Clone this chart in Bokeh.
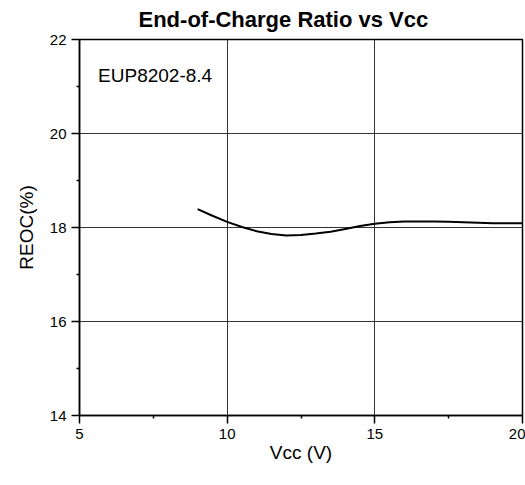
from bokeh.plotting import figure
from bokeh.models import Range1d, FixedTicker
from bokeh.embed import file_html
from bokeh.resources import INLINE
from bokeh.core.properties import value

vcc = [9.0, 9.5, 10.0, 10.5, 11.0, 11.5, 12.0, 12.5, 13.0, 13.5, 14.0, 14.5,
       15.0, 15.5, 16.0, 16.5, 17.0, 17.5, 18.0, 18.5, 19.0, 19.5, 20.0]
reoc = [18.39, 18.25, 18.12, 18.01, 17.92, 17.86, 17.83, 17.84, 17.87, 17.91,
        17.97, 18.03, 18.08, 18.11, 18.13, 18.13, 18.13, 18.12, 18.11, 18.10,
        18.09, 18.09, 18.09]
x_ticks = [5, 10, 15, 20]
x_minor = [7.5, 12.5, 17.5]
y_ticks = [14, 16, 18, 20, 22]
y_minor = [15, 17, 19, 21]

FONT = "Liberation Sans"

p = figure(width=525, height=485, output_backend="svg", toolbar_location=None,
           x_range=Range1d(5, 20), y_range=Range1d(14, 22),
           title="End-of-Charge Ratio vs Vcc",
           min_border_left=79, min_border_right=3, min_border_top=37,
           min_border_bottom=70)

p.title.text_font = FONT
p.title.text_font_size = "22px"
p.title.text_font_style = "bold"
p.title.align = "left"
p.title.offset = 59
p.title.standoff = 12
p.title.vertical_align = "top"
p.title.text_color = "black"

p.background_fill_color = "white"
p.border_fill_color = "white"
p.outline_line_color = "black"
p.outline_line_width = 1.5

p.xaxis.ticker = FixedTicker(ticks=x_ticks, minor_ticks=x_minor)
p.yaxis.ticker = FixedTicker(ticks=y_ticks, minor_ticks=y_minor)

for ax in (p.xaxis, p.yaxis):
    ax.axis_line_color = "black"
    ax.axis_line_width = 1.5
    ax.major_tick_line_color = "black"
    ax.major_tick_line_width = 1.5
    ax.minor_tick_line_color = "black"
    ax.minor_tick_line_width = 1.5
    ax.major_tick_out = 8
    ax.major_tick_in = 0
    ax.minor_tick_out = 3
    ax.minor_tick_in = 0
    ax.major_label_text_font = FONT
    ax.major_label_text_font_size = "15px"
    ax.major_label_text_color = "black"
    ax.major_label_standoff = 5
    ax.axis_label_text_font = FONT
    ax.axis_label_text_font_size = "19px"
    ax.axis_label_text_font_style = "normal"
    ax.axis_label_text_color = "black"

p.xaxis.axis_label = "Vcc (V)"
p.yaxis.axis_label = "REOC(%)"
p.xaxis.axis_label_standoff = 0
p.yaxis.axis_label_standoff = 10

p.xgrid.ticker = FixedTicker(ticks=x_ticks)
p.ygrid.ticker = FixedTicker(ticks=y_ticks)
p.grid.grid_line_color = "#333333"
p.grid.grid_line_width = 1
p.grid.grid_line_alpha = 1.0

p.line(vcc, reoc, line_color="black", line_width=2)

p.text(x=[5.63], y=[21.24], text=["EUP8202-8.4"], text_font=value(FONT),
       text_font_size="19px", text_color="black", text_baseline="alphabetic",
       text_align="left")

open("out.html", "w").write(file_html(p, INLINE))
